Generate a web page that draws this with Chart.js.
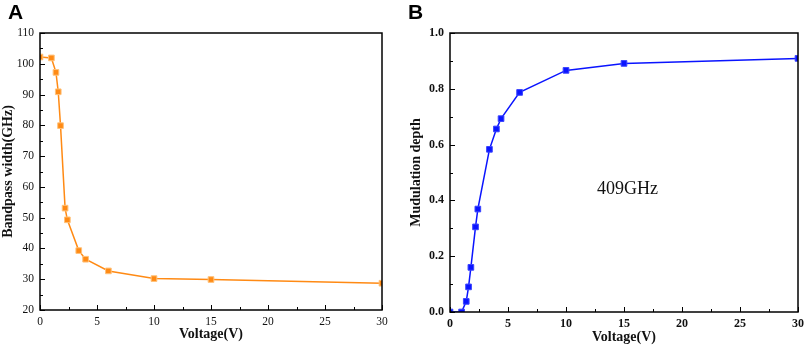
<!DOCTYPE html>
<html>
<head>
<meta charset="utf-8">
<script src="https://cdn.jsdelivr.net/npm/chart.js@4"></script>
<style>
  body{margin:0;background:#fff;width:809px;height:348px;position:relative;overflow:hidden;}
  .panel{position:absolute;top:0;}
  .tag{position:absolute;top:0;font:bold 21px "Liberation Sans",Arial,sans-serif;color:#000;}
</style>
</head>
<body>
<div class="panel" style="left:0"><canvas id="chartA" width="400" height="348"></canvas></div>
<div class="panel" style="left:400px"><canvas id="chartB" width="409" height="348"></canvas></div>
<div class="tag" style="left:8px">A</div>
<div class="tag" style="left:408px">B</div>
<script>
document.addEventListener('DOMContentLoaded',()=>{

// ===== DATA =====
const voltageA = [0, 1, 1.4, 1.6, 1.8, 2.2, 2.4, 3.4, 4, 6, 10, 15, 30];
const widthA   = [102.2, 101.9, 97.2, 90.9, 79.9, 53.1, 49.3, 39.3, 36.5, 32.7, 30.2, 29.9, 28.7];

const voltageB = [0, 1, 1.4, 1.6, 1.8, 2.2, 2.4, 3.4, 4, 4.4, 6, 10, 15, 30];
const depthB   = [0, 0, 0.038, 0.09, 0.16, 0.305, 0.369, 0.583, 0.656, 0.693, 0.787, 0.866, 0.891, 0.909];

const xTitle = 'Voltage(V)';
const yTitleA = 'Bandpass width(GHz)';
const yTitleB = 'Mudulation depth';
const noteB = '409GHz';

const SERIF = '"Liberation Serif","Times New Roman",serif';
const toPts = (xs,ys) => xs.map((x,i)=>({x,y:ys[i]}));

// ===== PLUGINS =====
// frame + inward ticks (major longer, minor shorter)
const frameTicks = {
  id:'frameTicks',
  afterDatasetsDraw(chart){
    const {ctx, chartArea:a, scales} = chart;
    ctx.save();
    ctx.strokeStyle = '#000';
    ctx.lineWidth = 1;
    const xs = scales.x, ys = scales.y;
    xs.ticks.forEach((t,i)=>{
      const p = Math.round(xs.getPixelForValue(t.value))+0.5;
      const len = xs._labelSizes && t.label !== '' ? 5 : 3;
      ctx.beginPath(); ctx.moveTo(p,a.bottom); ctx.lineTo(p,a.bottom-len); ctx.stroke();
    });
    ys.ticks.forEach(t=>{
      const p = Math.round(ys.getPixelForValue(t.value))+0.5;
      const len = t.label !== '' ? 5 : 3;
      ctx.beginPath(); ctx.moveTo(a.left,p); ctx.lineTo(a.left+len,p); ctx.stroke();
    });
    ctx.lineWidth = 1.5;
    ctx.strokeRect(a.left, a.top, a.right-a.left, a.bottom-a.top);
    ctx.restore();
  }
};

const note = {
  id:'note',
  afterDatasetsDraw(chart){
    const {ctx, scales} = chart;
    ctx.save();
    ctx.font = '18px ' + SERIF;
    ctx.fillStyle = '#111';
    ctx.textAlign = 'center';
    ctx.textBaseline = 'middle';
    ctx.fillText(noteB, scales.x.getPixelForValue(15.3), scales.y.getPixelForValue(0.44));
    ctx.restore();
  }
};

// ===== OPTIONS =====
function makeOptions(cfg){
  return {
    responsive:false,
    animation:false,
    layout:{padding:{top:33,right:cfg.right,left:0,bottom:0}},
    plugins:{legend:{display:false},tooltip:{enabled:false}},
    scales:{
      x:{
        type:'linear', min:0, max:30,
        afterFit:s=>{s.height = cfg.xh;},
        grid:{display:false,drawTicks:false},
        border:{display:false},
        ticks:{
          stepSize:2.5, padding:5, maxRotation:0, autoSkip:false,
          color:'#111', font:{family:SERIF,size:cfg.tickSize,weight:cfg.tickWeight},
          callback:v=> v%5===0 ? String(v) : ''
        },
        title:{display:true,text:xTitle,color:'#111',
          font:{family:SERIF,size:14,weight:'bold'},padding:{top:0,bottom:cfg.xtp}}
      },
      y:{
        min:cfg.ymin, max:cfg.ymax,
        afterFit:s=>{s.width = cfg.yw;},
        grid:{display:false,drawTicks:false},
        border:{display:false},
        ticks:{
          stepSize:cfg.ystep, padding:6, autoSkip:false,
          color:'#111', font:{family:SERIF,size:cfg.tickSize,weight:cfg.tickWeight},
          callback:cfg.ylabel
        },
        title:{display:true,text:cfg.ytitle,color:'#111',
          font:{family:SERIF,size:14,weight:'bold'},padding:{top:cfg.ytp,bottom:0}}
      }
    }
  };
}

// ===== CHART A =====
new Chart(document.getElementById('chartA'),{
  type:'line',
  data:{datasets:[{
    data:toPts(voltageA,widthA),
    borderColor:'#ff8a14',
    borderWidth:1.5,
    backgroundColor:'#ff8a14',
    pointStyle:'rect',
    pointRadius:4,
    pointBorderColor:'#ffc27a',
    pointBorderWidth:1,
    clip:0,
    tension:0
  }]},
  options:makeOptions({
    right:18, xh:38, yw:40, xtp:5, ytp:0,
    ymin:20, ymax:110, ystep:5, ytitle:yTitleA,
    tickSize:11.5, tickWeight:'normal',
    ylabel:v=> v%10===0 ? String(v) : ''
  }),
  plugins:[frameTicks]
});

// ===== CHART B =====
new Chart(document.getElementById('chartB'),{
  type:'line',
  data:{datasets:[{
    data:toPts(voltageB,depthB),
    borderColor:'#0a14ff',
    borderWidth:1.5,
    backgroundColor:'#0a14ff',
    pointStyle:'rect',
    pointRadius:4,
    pointBorderColor:'#3a44ff',
    pointBorderWidth:1,
    clip:0,
    tension:0
  }]},
  options:makeOptions({
    right:7, xh:36, yw:50, xtp:2, ytp:8,
    ymin:0, ymax:1, ystep:0.1, ytitle:yTitleB,
    tickSize:12, tickWeight:'bold',
    ylabel:v=> Math.round(v*10)%2===0 ? v.toFixed(1) : ''
  }),
  plugins:[frameTicks,note]
});

});
</script>
</body>
</html>
